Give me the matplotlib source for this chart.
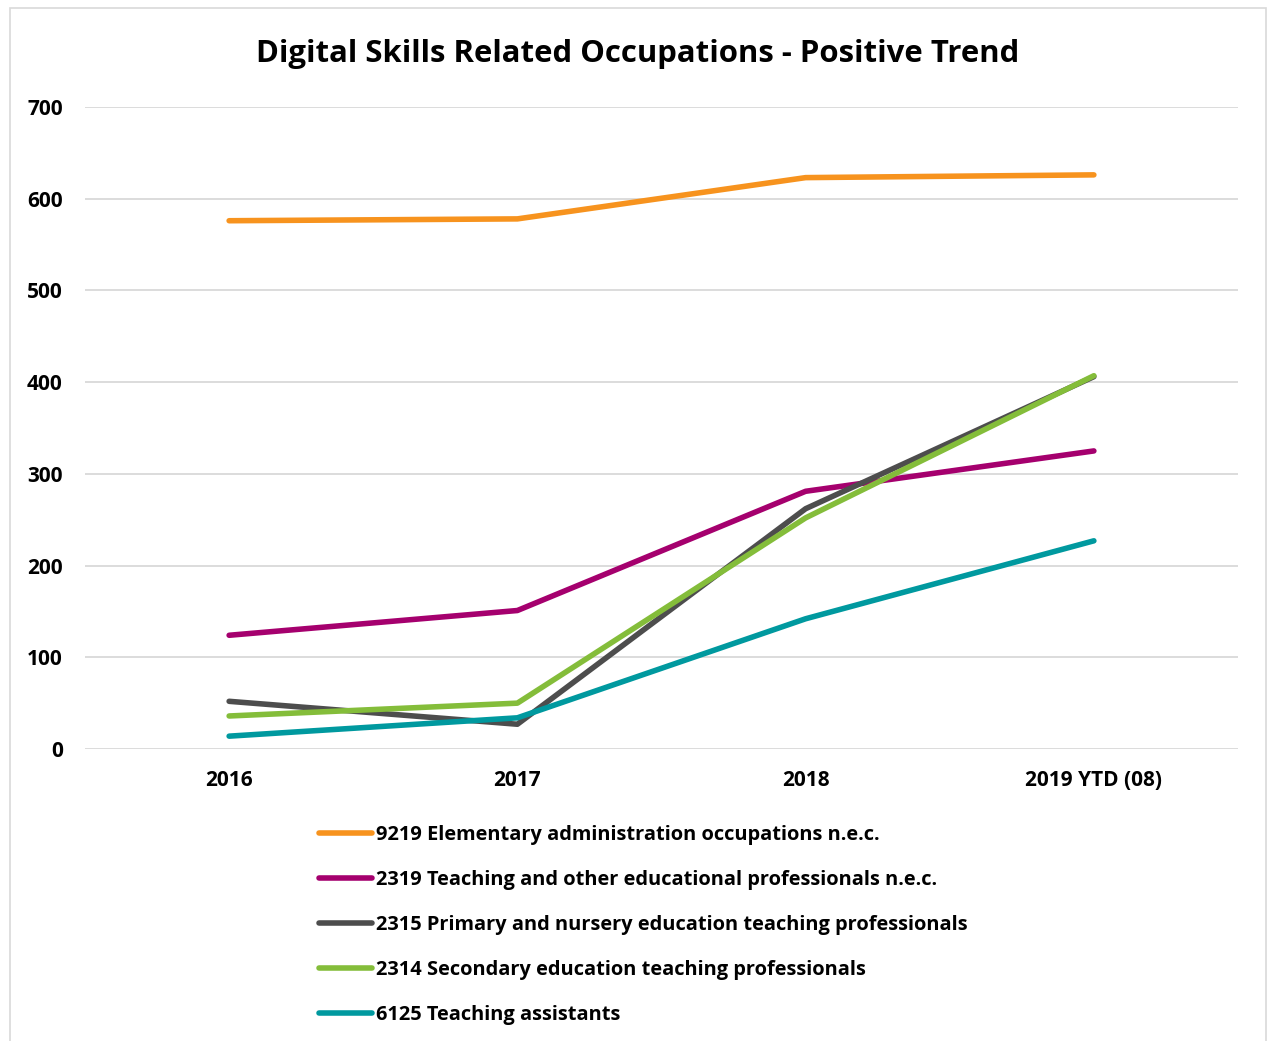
import matplotlib
matplotlib.use("Agg")
import matplotlib.pyplot as plt
from matplotlib.patches import Rectangle

# Data
years = ["2016", "2017", "2018", "2019 YTD (08)"]
elementary_admin = [576, 578, 623, 626]
teaching_other = [124, 151, 281, 325]
primary_nursery = [52, 27, 262, 406]
secondary = [36, 50, 252, 407]
teaching_assistants = [14, 34, 142, 227]

series = [
    ("9219 Elementary administration occupations n.e.c.", elementary_admin, "#F7931E"),
    ("2319 Teaching and other educational professionals n.e.c.", teaching_other, "#A5006E"),
    ("2315 Primary and nursery education teaching professionals", primary_nursery, "#4D4D4D"),
    ("2314 Secondary education teaching professionals", secondary, "#84BD3A"),
    ("6125 Teaching assistants", teaching_assistants, "#00999F"),
]

plt.rcParams["font.family"] = ["Open Sans", "DejaVu Sans"]
plt.rcParams["font.weight"] = "bold"

W, H = 1270, 1041
fig = plt.figure(figsize=(W / 100, H / 100), dpi=100)

# Chart frame
fig.patches.append(Rectangle((10 / W, -0.01), 1256 / W, 1 - 8 / H + 0.01,
                             transform=fig.transFigure, fill=False,
                             edgecolor="#D9D9D9", linewidth=1.2))

ax = fig.add_axes([85 / W, 1 - 749 / H, (1238 - 85) / W, (749 - 107) / H])
x = list(range(len(years)))
handles = []
for label, vals, color in series:
    h, = ax.plot(x, vals, color=color, linewidth=4.0, solid_capstyle="round",
                 solid_joinstyle="round", label=label)
    handles.append(h)

ax.set_xlim(-0.5, 3.5)
ax.set_ylim(0, 700)
ax.set_yticks(range(0, 701, 100))
ax.set_xticks(x)
ax.set_xticklabels(years)
ax.grid(axis="y", color="#D9D9D9", linewidth=1.3)
ax.set_axisbelow(True)
for s in ax.spines.values():
    s.set_visible(False)
ax.tick_params(axis="both", length=0, labelsize=15, labelcolor="black")
ax.tick_params(axis="y", pad=16)
ax.tick_params(axis="x", pad=15)
for t in ax.get_xticklabels() + ax.get_yticklabels():
    t.set_fontweight("bold")

fig.text(638 / W, 1 - 54 / H, "Digital Skills Related Occupations - Positive Trend",
         ha="center", va="center", fontsize=22.4, fontweight="bold")

leg = fig.legend(handles=handles, loc="upper left",
                 bbox_to_anchor=(309 / W, 1 - 815 / H), frameon=False,
                 fontsize=14.4, handlelength=2.65, handletextpad=0.2,
                 labelspacing=1.255, borderpad=0)
for t in leg.get_texts():
    t.set_fontweight("bold")

fig.savefig("out.png", dpi=100, facecolor="white")
